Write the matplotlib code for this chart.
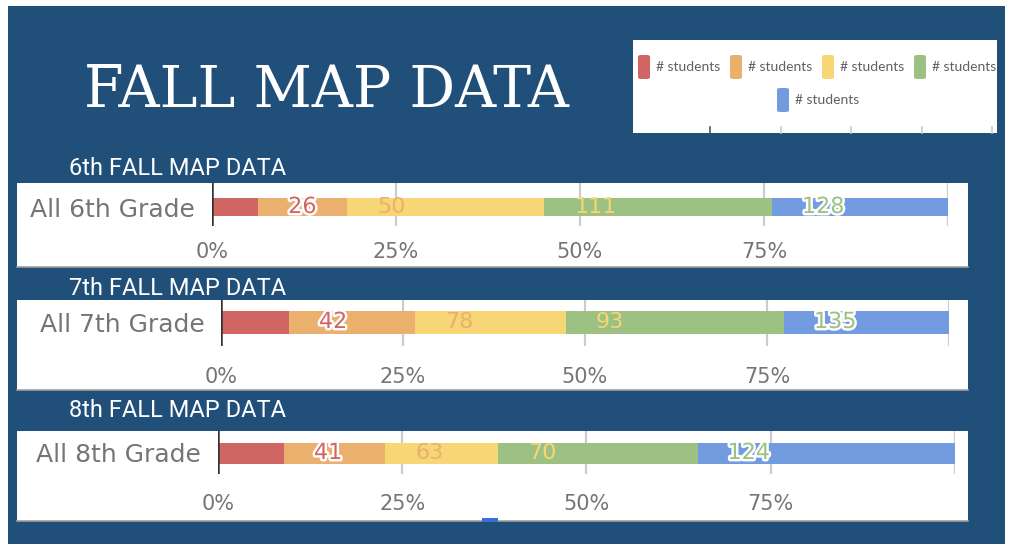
import matplotlib
matplotlib.use("Agg")
import matplotlib.pyplot as plt
import matplotlib.patheffects as pe
from matplotlib.patches import Rectangle, FancyBboxPatch
from matplotlib.lines import Line2D
import numpy as np

# ---------------- data ----------------
title = "FALL MAP DATA"
panel_titles = ["6th FALL MAP DATA", "7th FALL MAP DATA", "8th FALL MAP DATA"]
categories = ["All 6th Grade", "All 7th Grade", "All 8th Grade"]
series_names = ["# students", "# students", "# students", "# students", "# students"]
grade6 = [26, 50, 111, 128, 99]
grade7 = [42, 78, 93, 135, 102]
grade8 = [41, 63, 70, 124, 160]
tick_values = [0, 25, 50, 75, 100]
tick_labels = ["0%", "25%", "50%", "75%", ""]

colors = ["#D06664", "#ECB06E", "#F6D675", "#9CC182", "#729BE0"]
label_stroke = [True, False, False, True, True]
label_show = [True, True, True, True, False]
BG = "#20507A"
TXT = "#757575"

W, H = 1012, 544
fig = plt.figure(figsize=(W / 100, H / 100), dpi=100)
fig.patch.set_facecolor("white")


def fx(x):
    return x / W


def fy(y):
    return 1 - y / H


def frect(x0, y0, x1, y1, **kw):
    r = Rectangle((fx(x0), fy(y1)), fx(x1) - fx(x0), fy(y0) - fy(y1),
                  transform=fig.transFigure, **kw)
    fig.add_artist(r)
    return r


# background
frect(8, 6, 1005, 544, facecolor=BG, edgecolor="none", zorder=0)

# title
fig.text(fx(84), fy(107), title, color="white", family=["DejaVu Serif"],
         fontsize=41, va="baseline", ha="left")

# legend box (cropped chart legend)
frect(633, 40, 997, 133, facecolor="white", edgecolor="none", zorder=1)
leg_sw_x = [638, 730, 822, 914, 777]
leg_y = [67, 67, 67, 67, 100]
for i, name in enumerate(series_names):
    sx, sy = leg_sw_x[i], leg_y[i]
    p = FancyBboxPatch((fx(sx), fy(sy + 12)), fx(12), 24 / H,
                       boxstyle="round,pad=0,rounding_size=0.003",
                       transform=fig.transFigure, facecolor=colors[i],
                       edgecolor="none", zorder=2)
    fig.add_artist(p)
    fig.text(fx(sx + 18), fy(sy), name, color="#616161",
             family=["Lato", "DejaVu Sans"],
             fontsize=10, va="center", ha="left", zorder=3)
for k, tx in enumerate([710, 781, 851, 922, 992]):
    fig.add_artist(Line2D([fx(tx), fx(tx)], [fy(127), fy(133)],
                          transform=fig.transFigure,
                          color="#555555" if k == 0 else "#CCCCCC", lw=1.2, zorder=2))

# panels
panels = [
    dict(data=grade6, box=(17, 183, 968, 267), ax=(212, 948, 183, 226), bar_c=207, bar_h=18,
         sub_y=175, pad=19),
    dict(data=grade7, box=(17, 300, 968, 390), ax=(221, 949, 300, 346), bar_c=322, bar_h=23,
         sub_y=295, pad=24),
    dict(data=grade8, box=(17, 431, 968, 521), ax=(218, 955, 431, 474), bar_c=453, bar_h=21,
         sub_y=417, pad=23),
]

for pi, P in enumerate(panels):
    x0, y0, x1, y1 = P["box"]
    frect(x0, y0, x1, y1, facecolor="white", edgecolor="none", zorder=1)
    fig.add_artist(Line2D([fx(x0), fx(x1)], [fy(y1), fy(y1)], transform=fig.transFigure,
                          color="#A0A0A0", lw=1.2, zorder=2))
    fig.text(fx(69), fy(P["sub_y"]), panel_titles[pi], color="white", family=["Roboto"],
             fontsize=17, va="baseline", ha="left")

    ax_l, ax_r, ax_t, ax_b = P["ax"]
    ax = fig.add_axes([fx(ax_l), fy(ax_b), fx(ax_r) - fx(ax_l), (ax_b - ax_t) / H])
    ax.set_zorder(3)
    ax.patch.set_alpha(0)
    # axis in pixel-like units so bar center sits at y=0
    ax.set_ylim(-(ax_b - P["bar_c"]), P["bar_c"] - ax_t)
    ax.set_xlim(0, 100)

    vals = np.array(P["data"], dtype=float)
    pct = vals / vals.sum() * 100
    lefts = np.concatenate([[0], np.cumsum(pct)[:-1]])
    for i in range(len(vals)):
        ax.barh(0, pct[i], left=lefts[i], height=P["bar_h"], color=colors[i],
                edgecolor="none", zorder=2)
    for i in range(len(vals)):
        if not label_show[i]:
            continue
        kw = {}
        if label_stroke[i]:
            kw["path_effects"] = [pe.withStroke(linewidth=3.5, foreground="white")]
        ax.annotate(f"{int(vals[i])}", xy=(lefts[i] + pct[i], 0),
                    xytext=(30, 0), textcoords="offset pixels",
                    color=colors[i], fontsize=16, family=["DejaVu Sans"],
                    ha="left", va="center", zorder=4, **kw)

    # grid lines
    for v in tick_values[1:]:
        ax.axvline(v, color="#CCCCCC", lw=1.6, zorder=1)
    ax.axvline(0, color="#333333", lw=1.8, zorder=3)

    for s in ax.spines.values():
        s.set_visible(False)
    ax.set_xticks(tick_values)
    ax.set_xticklabels(tick_labels)
    ax.set_yticks([0])
    ax.set_yticklabels([categories[pi]])
    ax.tick_params(axis="x", length=0, pad=P["pad"] * 0.72 - 2, colors=TXT, labelsize=15)
    ax.tick_params(axis="y", length=0, pad=12, colors=TXT, labelsize=18)
    for lab in ax.get_xticklabels():
        lab.set_family(["DejaVu Sans"])
        lab.set_color(TXT)
    for lab in ax.get_yticklabels():
        lab.set_family(["DejaVu Sans"])
        lab.set_color(TXT)
        lab.set_verticalalignment("center_baseline")

# small stray swatch under the last panel
frect(482, 518, 498, 522, facecolor="#3A6FD8", edgecolor="none", zorder=2)

fig.savefig("out.png", dpi=100, facecolor=fig.get_facecolor())
